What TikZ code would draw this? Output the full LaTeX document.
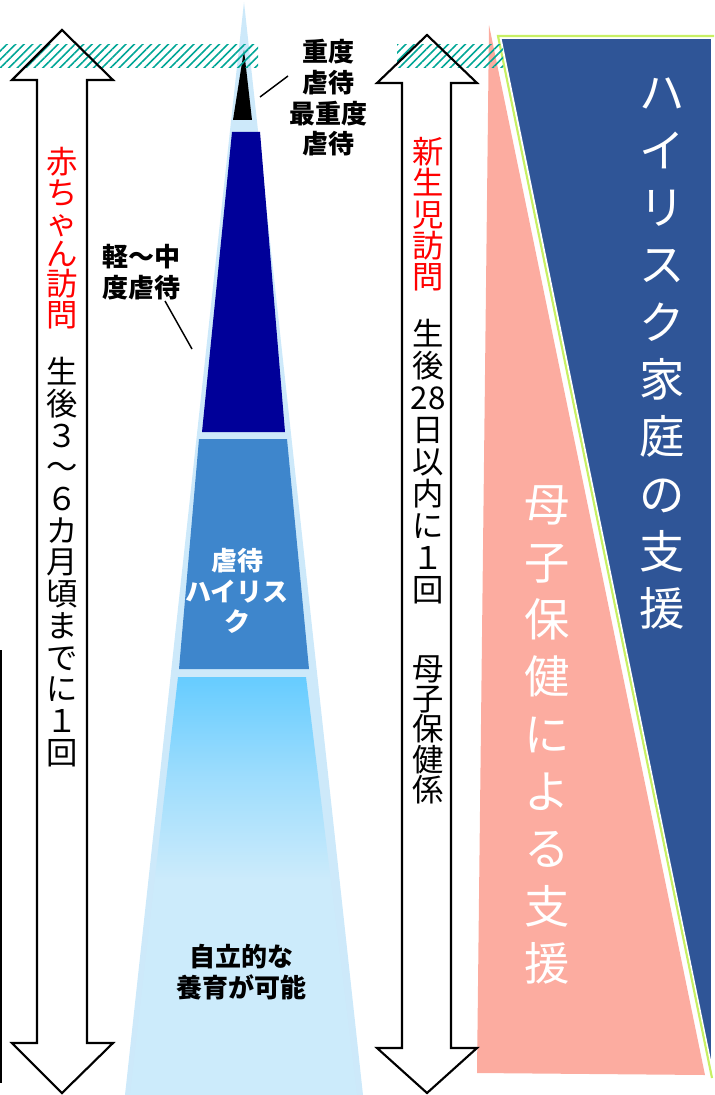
\documentclass[tikz,border=0pt]{standalone}
\usepackage{fontspec}
\newfontfamily\jp{Noto Sans CJK JP}
\usetikzlibrary{patterns.meta}
\definecolor{glow}{RGB}{205,233,250}
\definecolor{navyblue}{RGB}{0,0,153}
\definecolor{midblue}{RGB}{62,134,204}
\definecolor{skytop}{RGB}{102,204,255}
\definecolor{skybot}{RGB}{204,235,251}
\definecolor{hiblue}{RGB}{47,85,151}
\definecolor{salmon}{RGB}{252,172,160}
\definecolor{limeedge}{RGB}{200,240,100}
\definecolor{hatchteal}{RGB}{0,166,150}
\definecolor{visitred}{RGB}{255,0,0}
\tikzset{
  vt/.style={align=center, inner sep=0pt, anchor=north},
  vfont/.style={font=\jp\fontsize{23.5}{#1}\selectfont},
  bigfont/.style={font=\jp\fontsize{34}{43}\selectfont, text=white, align=center, inner sep=0pt},
  lbl/.style={font=\jp\bfseries\fontsize{19.5}{23}\selectfont, align=center, inner sep=0pt},
  bigarrow/.style={draw=black, line width=1.6pt, line join=miter},
  leader/.style={draw=black, line width=1.1pt},
  hatch/.style={pattern={Lines[angle=45,distance=4.5pt,line width=1.2pt]}, pattern color=hatchteal}
}
\begin{document}
\begin{tikzpicture}[x=0.75pt,y=-0.75pt]
\useasboundingbox (0,0) rectangle (714,1095);
% pyramid
\fill[glow] (244,2) -- (363,1095) -- (125,1095) -- cycle;
\fill[black] (244,50) -- (252,120) -- (233,120) -- cycle;
\fill[navyblue] (232,132) -- (260,132) -- (285,432) -- (202,432) -- cycle;
\fill[midblue] (199,439) -- (287,439) -- (309,669) -- (179,669) -- cycle;
\begin{scope}
  \clip (178,677) -- (306,677) -- (357,1095) -- (130,1095) -- cycle;
  \shade[top color=skytop, bottom color=skybot, middle color=skybot!55!skytop] (120,677) rectangle (370,880);
  \fill[skybot] (120,879) rectangle (370,1095);
\end{scope}
% right shapes
\fill[salmon] (489,25) -- (705,1075) -- (477,1073) -- cycle;
\path[fill=hiblue, draw=white, line width=4.5pt, line join=miter] (498,36) -- (714,36) -- (714,1080) -- (712,1080) -- cycle;
\draw[limeedge, line width=1.6pt] (712,1078) -- (498,36) -- (714,36);
% hatch bands
\path[hatch] (0,45) rectangle (258,68);
\path[hatch] (397,45) rectangle (503,68);
% double arrows
\draw[bigarrow] (62,30) -- (113,80) -- (87,80) -- (87,1043) -- (113,1043) -- (62,1093) -- (12,1043) -- (37,1043) -- (37,80) -- (12,80) -- cycle;
\draw[bigarrow] (427,35) -- (477,83) -- (451,83) -- (451,1048) -- (477,1048) -- (427,1093) -- (377,1048) -- (402,1048) -- (402,83) -- (377,83) -- cycle;
% left edge line
\draw[black, line width=1.6pt] (1,650) -- (1,1083);
% vertical texts in arrows
\node[vt, vfont=22.9pt, text=visitred] (lred) at (62,147) {赤\\ち\\ゃ\\ん\\訪\\問};
\node[vt, vfont=23.8pt] (lblack) at (62,357) {生\\後\\３\\〜\\６\\カ\\月\\頃\\ま\\で\\に\\１\\回};
\node[vt, vfont=23.5pt, text=visitred] (rred) at (428,137) {新\\生\\児\\訪\\問};
\node[vt, vfont=24pt] (rblack) at (428,319) {生\\後\\28\\日\\以\\内\\に\\１\\回};
\node[vt, vfont=22.8pt] (rstaff) at (428,655) {母\\子\\保\\健\\係};
% big texts
\node[bigfont] (hr) at (662,354) {ハ\\イ\\リ\\ス\\ク\\家\\庭\\の\\支\\援};
\node[bigfont] (mc) at (547,735) {母\\子\\保\\健\\に\\よ\\る\\支\\援};
% pyramid labels
\node[lbl] (severe) at (328,98) {重度\\虐待\\最重度\\虐待};
\node[lbl] (mild) at (141,272) {軽〜中\\度虐待};
\node[lbl, text=white] (risk) at (237,591) {虐待\\ハイリス\\ク};
\node[lbl] (indep) at (241,972) {自立的な\\養育が可能};
\coordinate (tipP) at (260,97);
\coordinate (navyP) at (192,349);
\draw[leader] (288,76) -- (tipP);
\draw[leader] (165,301) -- (navyP);
\end{tikzpicture}
\end{document}
